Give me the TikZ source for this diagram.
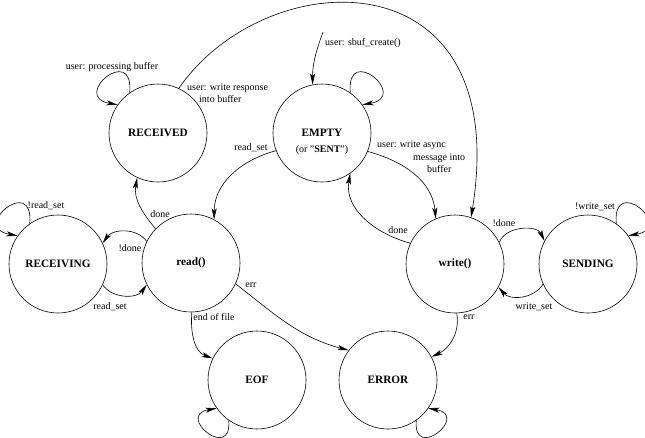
\documentclass[tikz,border=0pt]{standalone}
\usepackage{fontspec}
\setmainfont{Liberation Serif}
\usepackage{tikz}
\usetikzlibrary{arrows.meta}

\begin{document}
\begin{tikzpicture}[x=1pt,y=-1pt]

		\useasboundingbox (0,0) rectangle (645,437);
		\tikzset{etat/.style={draw, circle, minimum size=98pt, inner sep=0pt, line width=0.6pt, font=\fontsize{11.3}{13}\selectfont\bfseries}}
		\tikzset{etiq/.style={inner sep=0pt, font=\fontsize{10}{12.5}\selectfont}}
		\tikzset{fleche/.style={line width=0.6pt, -{Stealth[length=11pt,width=5pt,inset=2.5pt]}}}

		\node[etat] (RD) at (158,133) {RECEIVED};
		\node[etat] (EM) at (322,133) {EMPTY};
		\node[etat] (RG) at (58,264) {RECEIVING};
		\node[etat] (RE) at (191,263) {read()};
		\node[etat] (WR) at (455,264) {write()};
		\node[etat] (SE) at (588,264) {SENDING};
		\node[etat] (EO) at (257,380) {EOF};
		\node[etat] (ER) at (388,380) {ERROR};
		\coordinate (debut) at (323,32);

		\node[etiq] (lRD) at (112,67) {user: processing buffer};
		\node[etiq, align=left, anchor=west] (lRDWR) at (187,93) {user: write response\\\hspace{12pt}into buffer};
		\node[etiq] (lInit) at (363,43) {user: sbuf\_create()};
		\node[etiq] (lSent) at (322,150) {(or "\textbf{SENT}")};
		\node[etiq] (lEMRE) at (251,148) {read\_set};
		\node[etiq, align=left, anchor=west] (lEMWR) at (377,157) {user: write async\\\hspace{36pt}message into\\\hspace{50pt}buffer};
		\node[etiq] (lWREM) at (398,230) {done};
		\node[etiq] (lRERD) at (160,214) {done};
		\node[etiq] (lRERG) at (130,248) {!done};
		\node[etiq] (lRGRE) at (110,307) {read\_set};
		\node[etiq] (lRG) at (46,206) {!read\_set};
		\node[etiq] (lREEO) at (214,317) {end of file};
		\node[etiq] (lREER) at (251,285) {err};
		\node[etiq] (lWRER) at (469,317) {err};
		\node[etiq] (lWRSE) at (504,223) {!done};
		\node[etiq] (lSEWR) at (534,307) {write\_set};
		\node[etiq] (lSE) at (595,207) {!write\_set};

		\draw[fleche] (RD.125) .. controls +(85:50pt) and +(170:48pt) .. (RD.145);
		\draw[fleche] (RD.65) .. controls (266,-38) and (514,-47) .. (WR.71);
		\draw[fleche] (debut) to[out=250,in=90] (EM.101);
		\draw[fleche] (EM.55) .. controls +(95:50pt) and +(10:48pt) .. (EM.35);
		\draw[fleche] (EM.201) to[out=195,in=90] (RE.62);
		\draw[fleche] (EM.338) to[out=-15,in=95] (WR.113);
		\draw[fleche] (WR.155) to[out=165,in=260] (EM.305);
		\draw[fleche] (RE.136) to[out=130,in=260] (RD.245);
		\draw[fleche] (RE.154) to[out=125,in=55] (RG.25);
		\draw[fleche] (RG.-25) to[out=-55,in=235] (RE.206);
		\draw[fleche] (RG.125) .. controls +(85:50pt) and +(170:48pt) .. (RG.145);
		\draw[fleche] (RE.271) to[out=265,in=160] (EO.154);
		\draw[fleche] (RE.-25) to[out=-38,in=165] (ER.143);
		\draw[fleche] (WR.272) to[out=280,in=25] (ER.28);
		\draw[fleche] (WR.26) to[out=70,in=115] (SE.152);
		\draw[fleche] (SE.204) to[out=240,in=-50] (WR.-28);
		\draw[fleche] (SE.55) .. controls +(95:50pt) and +(10:48pt) .. (SE.35);
		\draw[fleche] (EO.235) .. controls +(275:42pt) and +(190:42pt) .. (EO.215);
		\draw[fleche] (ER.305) .. controls +(265:42pt) and +(350:42pt) .. (ER.325);

\end{tikzpicture}
\end{document}
